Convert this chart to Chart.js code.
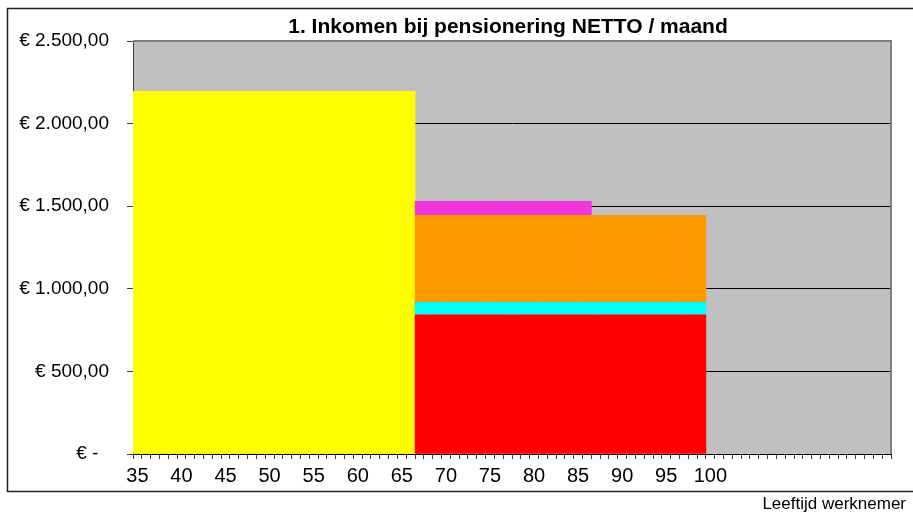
<!DOCTYPE html>
<html>
<head>
<meta charset="utf-8">
<script src="https://cdn.jsdelivr.net/npm/chart.js@4.4.1/dist/chart.umd.min.js"></script>
<style>
  html, body { margin: 0; padding: 0; background: #fff; }
  canvas { display: block; }
</style>
</head>
<body>
<canvas id="chart" width="913" height="516"></canvas>
<script>
const _ = null;

// leeftijd werknemer
const ages = [
  35, 36, 37, 38, 39, 40, 41, 42, 43, 44,
  45, 46, 47, 48, 49, 50, 51, 52, 53, 54,
  55, 56, 57, 58, 59, 60, 61, 62, 63, 64,
  65, 66, 67, 68, 69, 70, 71, 72, 73, 74,
  75, 76, 77, 78, 79, 80, 81, 82, 83, 84,
  85, 86, 87, 88, 89, 90, 91, 92, 93, 94,
  95, 96, 97, 98, 99, 100, 101, 102, 103, 104,
  105, 106, 107, 108, 109, 110, 111, 112, 113, 114,
  115, 116, 117, 118, 119, 120
];

// netto salaris tot pensioen
const salaris = [
  2195, 2195, 2195, 2195, 2195, 2195, 2195, 2195, 2195, 2195,
  2195, 2195, 2195, 2195, 2195, 2195, 2195, 2195, 2195, 2195,
  2195, 2195, 2195, 2195, 2195, 2195, 2195, 2195, 2195, 2195,
  2195, 2195, _, _, _, _, _, _, _, _,
  _, _, _, _, _, _, _, _, _, _,
  _, _, _, _, _, _, _, _, _, _,
  _, _, _, _, _, _, _, _, _, _,
  _, _, _, _, _, _, _, _, _, _,
  _, _, _, _, _, _
];

const aow = [
  _, _, _, _, _, _, _, _, _, _,
  _, _, _, _, _, _, _, _, _, _,
  _, _, _, _, _, _, _, _, _, _,
  _, _, 842, 842, 842, 842, 842, 842, 842, 842,
  842, 842, 842, 842, 842, 842, 842, 842, 842, 842,
  842, 842, 842, 842, 842, 842, 842, 842, 842, 842,
  842, 842, 842, 842, 842, _, _, _, _, _,
  _, _, _, _, _, _, _, _, _, _,
  _, _, _, _, _
];

const toeslag = [
  _, _, _, _, _, _, _, _, _, _,
  _, _, _, _, _, _, _, _, _, _,
  _, _, _, _, _, _, _, _, _, _,
  _, _, 77, 77, 77, 77, 77, 77, 77, 77,
  77, 77, 77, 77, 77, 77, 77, 77, 77, 77,
  77, 77, 77, 77, 77, 77, 77, 77, 77, 77,
  77, 77, 77, 77, 77, _, _, _, _, _,
  _, _, _, _, _, _, _, _, _, _,
  _, _, _, _, _, _
];

const pensioen = [
  _, _, _, _, _, _, _, _, _, _,
  _, _, _, _, _, _, _, _, _, _,
  _, _, _, _, _, _, _, _, _, _,
  _, _, 526, 526, 526, 526, 526, 526, 526, 526,
  526, 526, 526, 526, 526, 526, 526, 526, 526, 526,
  526, 526, 526, 526, 526, 526, 526, 526, 526, 526,
  526, 526, 526, 526, 526, _, _, _, _, _,
  _, _, _, _, _, _, _, _, _, _,
  _, _, _, _, _, _
];

const lijfrente = [
  _, _, _, _, _, _, _, _, _, _,
  _, _, _, _, _, _, _, _, _, _,
  _, _, _, _, _, _, _, _, _, _,
  _, _, 85, 85, 85, 85, 85, 85, 85, 85,
  85, 85, 85, 85, 85, 85, 85, 85, 85, 85,
  85, 85, _, _, _, _, _, _, _, _,
  _, _, _, _, _, _, _, _, _, _,
  _, _, _, _, _, _, _, _, _, _,
  _, _, _, _, _, _
];

const yTicks = [0, 500, 1000, 1500, 2000, 2500];

const FONT = '"Liberation Sans", Arial, sans-serif';

function euro(v) {
  if (v === 0) return '€ -  ';
  const parts = v.toFixed(2).split('.');
  const whole = parts[0].replace(/\B(?=(\d{3})+(?!\d))/g, '.');
  return '€ ' + whole + ',' + parts[1];
}

const decor = {
  id: 'decor',
  beforeDraw(chart) {
    const { ctx, chartArea: a } = chart;
    ctx.save();
    ctx.fillStyle = '#ffffff';
    ctx.fillRect(0, 0, chart.width, chart.height);
    ctx.fillStyle = '#c0c0c0';
    ctx.fillRect(a.left, a.top, a.right - a.left, a.bottom - a.top);
    ctx.restore();
  },
  afterDraw(chart) {
    const { ctx, chartArea: a } = chart;
    ctx.save();
    // plot frame top / right
    ctx.strokeStyle = '#808080';
    ctx.lineWidth = 2;
    ctx.beginPath();
    ctx.moveTo(a.left, a.top);
    ctx.lineTo(a.right, a.top);
    ctx.lineTo(a.right, a.bottom);
    ctx.stroke();
    // outer chart border
    ctx.strokeStyle = '#222';
    ctx.lineWidth = 1.5;
    ctx.strokeRect(7.5, 8.5, 930, 483);
    // titles
    ctx.fillStyle = '#000';
    ctx.textAlign = 'center';
    ctx.textBaseline = 'middle';
    ctx.font = 'bold 21px ' + FONT;
    ctx.fillText('1. Inkomen bij pensionering NETTO / maand', 508, 27);
    ctx.textAlign = 'right';
    ctx.font = '17px ' + FONT;
    ctx.fillText('Leeftijd werknemer', 906, 504);
    ctx.restore();
  }
};

const ctx = document.getElementById('chart').getContext('2d');
new Chart(ctx, {
  type: 'bar',
  data: {
    labels: ages,
    datasets: [
      { label: 'AOW', data: aow, backgroundColor: '#ff0000' },
      { label: 'Toeslag', data: toeslag, backgroundColor: '#00ffff' },
      { label: 'Pensioen', data: pensioen, backgroundColor: '#ff9900' },
      { label: 'Lijfrente', data: lijfrente, backgroundColor: '#f236dc' },
      { label: 'Salaris', data: salaris, backgroundColor: '#ffff00' }
    ]
  },
  options: {
    responsive: false,
    animation: false,
    layout: { padding: { top: 41, right: 22, bottom: 25, left: 0 } },
    datasets: {
      bar: { barPercentage: 1, categoryPercentage: 1, borderWidth: 0 }
    },
    plugins: {
      legend: { display: false },
      title: { display: false },
      tooltip: { enabled: false }
    },
    scales: {
      x: {
        stacked: true,
        afterFit(scale) { scale.height = 37; },
        border: { color: '#000', width: 1 },
        grid: {
          offset: true,
          drawOnChartArea: false,
          drawTicks: true,
          tickLength: 5,
          color: '#404040'
        },
        ticks: {
          autoSkip: false,
          maxRotation: 0,
          minRotation: 0,
          padding: 5,
          color: '#000',
          font: { family: FONT, size: 20 },
          callback(value, index) {
            const age = ages[index];
            return (age % 5 === 0 && age <= 100) ? String(age) : '';
          }
        }
      },
      y: {
        stacked: true,
        min: 0,
        max: 2500,
        afterFit(scale) { scale.width = 133; },
        afterBuildTicks(scale) { scale.ticks = yTicks.map(v => ({ value: v })); },
        border: { color: '#404040', width: 1 },
        grid: {
          color: c => c.tick && c.tick.value === 2500 ? 'rgba(0,0,0,0)' : '#000',
          lineWidth: 1,
          drawTicks: true,
          tickLength: 6,
          tickColor: '#404040'
        },
        ticks: {
          padding: 18,
          color: '#000',
          font: { family: FONT, size: 19 },
          callback: v => euro(v)
        }
      }
    }
  },
  plugins: [decor]
});
</script>
</body>
</html>
